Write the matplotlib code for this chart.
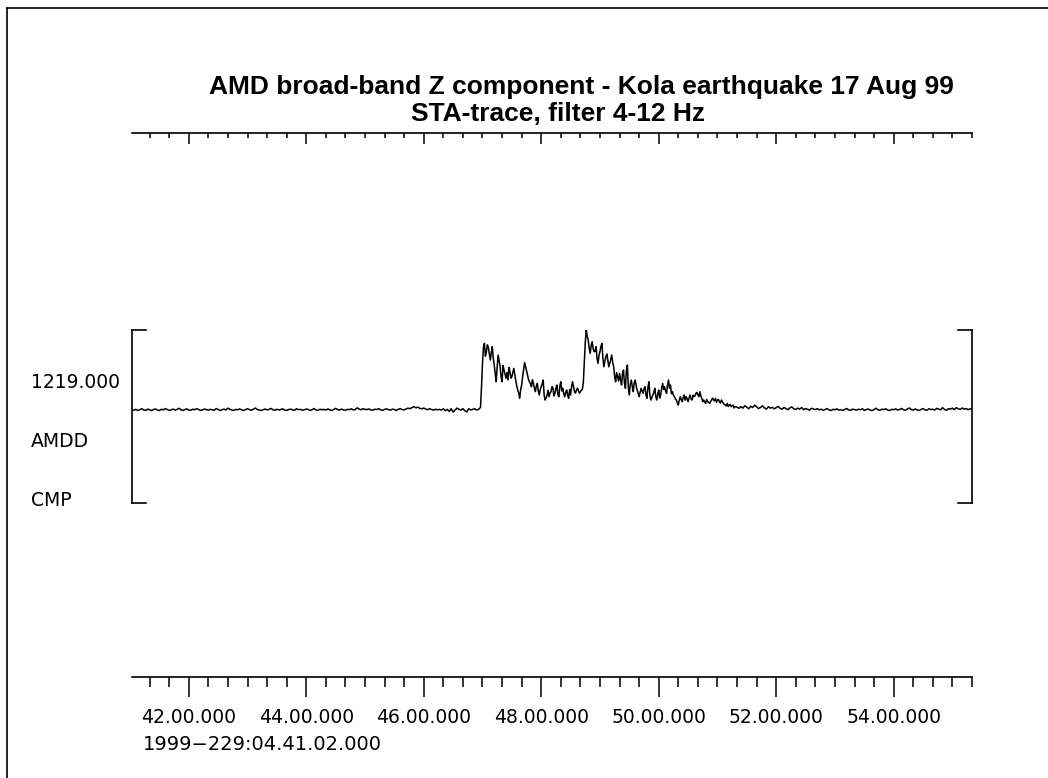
import matplotlib
matplotlib.use("Agg")
import matplotlib.pyplot as plt
from matplotlib.ticker import MultipleLocator, FuncFormatter, NullFormatter
from matplotlib.lines import Line2D
import numpy as np

# ---------------- data ----------------
title_line1 = "AMD broad-band Z component - Kola earthquake 17 Aug 99"
title_line2 = "STA-trace, filter 4-12 Hz"
start_label = "1999\u2212229:04.41.02.000"
station_labels = ["1219.000", "AMDD", "CMP"]
scale_max = 1219.0

start_minute = 41 + 2 / 60.0      # 04:41:02

# pre-event noise, 2 s samples starting at 04:41:02
pre_dt_s = 2.0
sta_pre = [
    95, 88, 102, 84, 97, 110, 92, 86, 104, 96, 83, 99, 107, 90, 85, 101, 94, 112, 98, 87,
    93, 105, 89, 100, 116, 95, 84, 98, 108, 91, 87, 103, 95, 110, 99, 86, 92, 106, 97, 89,
    101, 94, 88, 112, 99, 85, 96, 104, 92, 118, 102, 90, 86, 100, 95, 107, 93, 84, 98, 109,
    96, 88, 103, 120, 98, 91, 85, 97, 105, 93, 100, 114, 95, 87, 102, 92, 99, 108, 90, 86,
    98, 104, 93, 87, 110, 96, 101, 89, 94, 106, 99, 85, 97, 112, 92, 88, 103, 95, 100, 91,
    107, 94, 86, 99, 115, 97, 90, 104, 93, 88, 101, 96, 109, 92, 98, 122, 105, 95, 110, 99,
    99, 106, 92, 88, 103, 97, 111, 94, 87, 100, 108, 95, 90, 104, 98, 86, 101, 112, 96, 93,
    105, 118, 110, 126, 140, 122, 132, 115, 108, 120, 104, 96, 110, 99, 90, 102, 95,
    100, 91, 110, 82, 100, 72, 110, 63, 91, 119, 100, 91, 110, 82, 63, 110, 91, 100, 110, 91,
    100,
]

# event part, 1 s samples starting 356 s after 04:41:02
event_start_s = 356.0
event_dt_s = 1.0
sta_event = [
    129, 420, 749, 980, 1031, 850, 914, 1010, 975, 880, 796, 900, 984, 820, 726, 600, 490, 700, 866, 780,
    702, 560, 490, 720, 655, 600, 538, 620, 514, 690, 632, 540, 561, 620, 679, 590, 514, 430, 373, 330,
    256, 380, 444, 560, 655, 760, 702, 640, 585, 520, 490, 460, 420, 520, 467, 400, 350, 430, 467, 360,
    303, 380, 420, 460, 514, 300, 232, 260, 303, 370, 279, 330, 350, 420, 397, 290, 326, 400, 444, 310,
    279, 430, 490, 360, 397, 320, 279, 340, 373, 300, 256, 380, 303, 420, 490, 420, 350, 330, 373, 400,
    364, 330, 350, 370, 382, 480, 772, 1050, 1219, 1130, 1078, 960, 890, 1000, 1055, 960, 914, 920, 984, 820,
    749, 860, 914, 990, 1031, 820, 702, 780, 843, 880, 796, 700, 749, 800, 866, 760, 702, 560, 490, 620,
    561, 500, 608, 520, 444, 600, 655, 470, 397, 660, 726, 400, 303, 460, 514, 420, 350, 480, 514, 430,
    373, 330, 279, 340, 397, 360, 326, 390, 420, 300, 256, 410, 490, 300, 232, 270, 303, 340, 397, 280,
    232, 320, 373, 260, 303, 400, 467, 380, 420, 360, 326, 440, 514, 400, 444, 320, 350, 300, 279, 250,
    232, 190, 161, 230, 279, 240, 209, 270, 303, 230, 279, 250, 209, 260, 303, 250, 232, 300, 279, 290,
    326, 340, 303, 280, 350, 290, 256, 210, 232, 200, 185, 240, 209, 200, 185, 210, 232, 260, 232, 220,
    256, 200, 232, 240, 209, 190, 232, 210, 185, 170, 161, 150, 185, 140, 161, 170, 138, 150, 161, 120,
    138, 140, 129, 125, 115,
]

# coda / post-event noise, 2 s samples starting 622 s after 04:41:02
post_start_s = 622.0
post_dt_s = 2.0
sta_post = [
    140, 118, 152, 130, 109, 145, 126, 160, 135, 112, 128, 150, 121, 104, 138, 117, 130, 108, 125, 142,
    115, 103, 128, 110, 96, 121, 135, 107, 99, 118, 104, 126, 95, 112, 101, 90, 116, 105, 97, 110,
    94, 103, 88, 99, 112, 92, 85, 101, 95, 108, 90, 97, 84, 100, 113, 93, 87, 104, 96, 89,
    102, 95, 110, 86, 98, 105, 91, 83, 99, 116, 94, 88, 103, 97, 109, 90, 85, 101, 96, 107,
    92, 99, 114, 95, 88, 104, 121, 97, 90, 106, 93, 84, 100, 112, 94, 89, 109, 98, 103, 91,
    115, 102, 96, 124, 99, 88, 110, 105, 118, 97, 125, 108, 100, 120, 103, 112, 96, 108, 104,
]

# ---------------- build series ----------------
t_sec = np.concatenate([
    np.arange(len(sta_pre)) * pre_dt_s,
    event_start_s + np.arange(len(sta_event)) * event_dt_s,
    post_start_s + np.arange(len(sta_post)) * post_dt_s,
])
amp = np.array(sta_pre + sta_event + sta_post, dtype=float)
t_min = start_minute + t_sec / 60.0

W_PX, H_PX = 1048, 778
fig = plt.figure(figsize=(W_PX / 100, H_PX / 100), dpi=100)
fig.patch.set_facecolor("white")


def fx(px):
    return px / W_PX


def fy(py):
    return 1 - py / H_PX


ax_left_px, ax_right_px = 132, 972
L = fx(ax_left_px)
Wd = fx(ax_right_px - ax_left_px)

# main trace axes (bracket)
top_px, bot_px = 330, 503
ax = fig.add_axes([L, fy(bot_px), Wd, (bot_px - top_px) / H_PX])
ax.plot(t_min, amp, color="black", lw=1.1)
ax.set_xlim(t_min[0], t_min[-1])
ax.set_ylim(-scale_max, scale_max)
for s in ["top", "bottom"]:
    ax.spines[s].set_visible(False)
for s in ["left", "right"]:
    ax.spines[s].set_linewidth(1.2)
stub = 14 / (ax_right_px - ax_left_px)
for yy in (0, 1):
    ax.add_line(Line2D([0, stub], [yy, yy], transform=ax.transAxes, color="black", lw=1.2, clip_on=False))
    ax.add_line(Line2D([1 - stub, 1], [yy, yy], transform=ax.transAxes, color="black", lw=1.2, clip_on=False))


def fmt_time(v, pos):
    total = int(round(v * 60))
    m, s = divmod(total, 60)
    return f"{m:02d}.{s:02d}.000"


def make_time_axis(ypx, major_len, minor_len):
    a = fig.add_axes([L, fy(ypx), Wd, 1e-4], sharex=ax)
    a.patch.set_visible(False)
    for s in ["top", "left", "right"]:
        a.spines[s].set_visible(False)
    a.spines["bottom"].set_linewidth(1.2)
    a.set_yticks([])
    a.tick_params(axis="x", which="major", direction="out", length=major_len, width=1.1,
                  labelsize=13.5, pad=8)
    a.tick_params(axis="x", which="minor", direction="out", length=minor_len, width=1.1)
    return a


ax_top = make_time_axis(132.5, 7.9, 3.8)
ax_bot = make_time_axis(677, 14.4, 7.2)
ax_bot.xaxis.set_major_locator(MultipleLocator(2))
ax_bot.xaxis.set_minor_locator(MultipleLocator(1 / 3))
ax_bot.xaxis.set_major_formatter(FuncFormatter(fmt_time))
ax_bot.xaxis.set_minor_formatter(NullFormatter())
ax_top.tick_params(axis="x", which="both", labelbottom=False)
ax_bot.tick_params(axis="x", which="major", labelbottom=True)
ax.tick_params(axis="both", which="both", left=False, bottom=False, top=False, right=False,
               labelleft=False, labelbottom=False)
for lab in ax_bot.get_xticklabels():
    lab.set_family("DejaVu Sans")

# titles
fig.text(fx(581), fy(94), title_line1, ha="center", va="baseline",
         family="Liberation Sans", weight="bold", fontsize=19)
fig.text(fx(558), fy(121), title_line2, ha="center", va="baseline",
         family="Liberation Sans", weight="bold", fontsize=19)

# station labels
for lab, ypx in zip(station_labels, [383, 442, 501]):
    fig.text(fx(31), fy(ypx), lab, ha="left", va="center", family="DejaVu Sans", fontsize=13.5)

# start time label
fig.text(fx(143), fy(744), start_label, ha="left", va="center", family="DejaVu Sans", fontsize=14)

# page frame (left and top edges)
fig.add_artist(Line2D([fx(7), fx(7)], [fy(8), 0], transform=fig.transFigure, color="black", lw=1.2))
fig.add_artist(Line2D([fx(7), 1], [fy(8), fy(8)], transform=fig.transFigure, color="black", lw=1.2))

fig.savefig("out.png", dpi=100, facecolor="white")
